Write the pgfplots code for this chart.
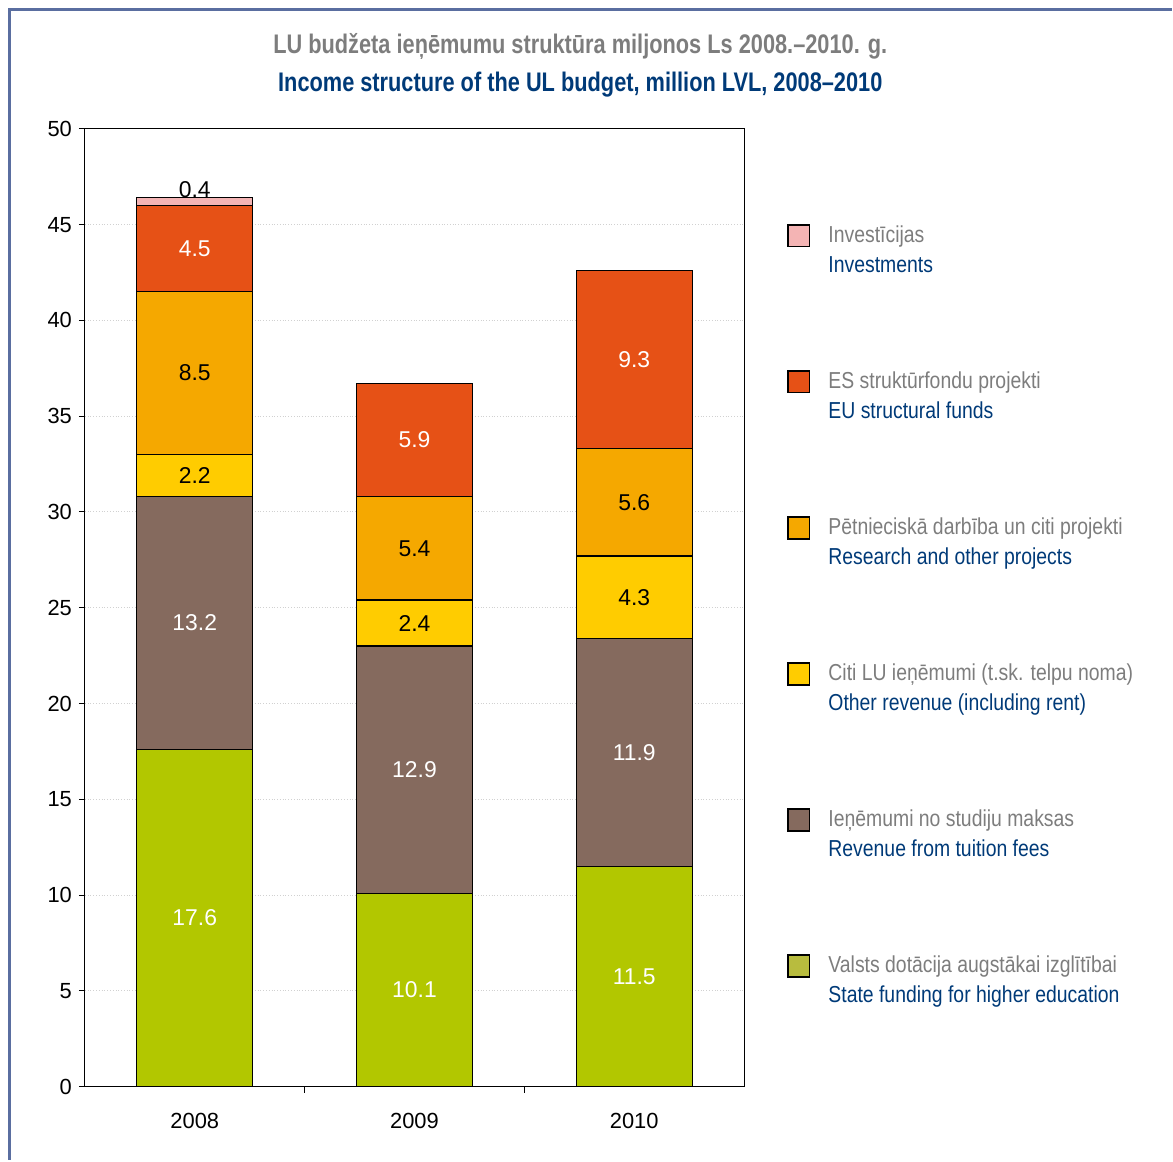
\documentclass[border=0pt]{standalone}
\usepackage{pgfplots}
\pgfplotsset{compat=1.18}
\usepackage{fontspec}
\setmainfont{Liberation Sans}
\newfontfamily\narrow[FakeStretch=0.84]{Liberation Sans}
\newfontfamily\narrowt[FakeStretch=0.81]{Liberation Sans}
\definecolor{cgreen}{RGB}{178,199,0}
\definecolor{cgreenleg}{RGB}{184,188,62}
\definecolor{cbrown}{RGB}{133,106,94}
\definecolor{cyellow}{RGB}{255,204,0}
\definecolor{corange}{RGB}{245,168,0}
\definecolor{cred}{RGB}{230,81,22}
\definecolor{cpink}{RGB}{244,180,180}
\definecolor{lgray}{RGB}{125,125,125}
\definecolor{lblue}{RGB}{0,58,120}
\definecolor{framec}{RGB}{90,110,160}
\pgfplotsset{
  mid label/.style={nodes near coords,
    every node near coord/.append style={anchor=center, text=#1}},
}
\begin{document}
\begin{tikzpicture}[x=0.5bp,y=0.5bp]
\path (0,0) rectangle (1173,1161);
\draw[framec, line width=1.5bp] (9.5,0) -- (9.5,1151) -- (1173,1151);
\node[font=\narrowt\bfseries\fontsize{13.5}{15}\selectfont, text=lgray] at (581,1114) {LU budžeta ieņēmumu struktūra miljonos Ls 2008.–2010. g.};
\node[font=\narrowt\bfseries\fontsize{13.5}{15}\selectfont, text=lblue] at (581,1076) {Income structure of the UL budget, million LVL, 2008–2010};
\begin{axis}[
  at={(42.5bp,36.5bp)}, anchor=south west,
  scale only axis, width=330bp, height=479.5bp,
  ybar stacked, bar width=0.527,
  xmin=0, xmax=3, ymin=0, ymax=50,
  xtick={0.5,1.5,2.5}, xticklabels={2008,2009,2010},
  minor xtick={1,2},
  ytick={0,5,...,50},
  xtick pos=bottom, ytick pos=left,
  tick align=outside,
  major x tick style={draw=none},
  minor tick length=3bp, major tick length=3bp,
  tick style={black, line width=0.5bp},
  xticklabel style={yshift=-7bp},
  ymajorgrids, grid style={densely dotted, black!18, line width=0.5bp},
  axis line style={black, line width=0.5bp},
  tick label style={font=\fontsize{11}{13}\selectfont},
  /pgf/number format/assume math mode=true,
  point meta=rawy,
  nodes near coords={\pgfmathprintnumber[fixed, fixed zerofill, precision=1]{\pgfplotspointmeta}},
  nodes near coords style={font=\fontsize{11.5}{13}\selectfont},
  reverse legend,
  legend style={draw=none, fill=none, at={(1.065,0.903)}, anchor=north west,
    row sep=44.3bp, column sep=7bp, inner sep=0pt,
    font=\narrow\fontsize{11.6}{15}\selectfont,
    cells={align=left, anchor=west, inner sep=0pt}},
  legend image code/.code={\draw[#1, draw=black, line width=0.6bp] (0bp,2bp) rectangle (11bp,13bp);},
]
\addplot[fill=cgreen, draw=black, line width=0.6bp, mid label=white, legend image post style={fill=cgreenleg}] coordinates {(0.5,17.6) (1.5,10.1) (2.5,11.5)};
\addlegendentry{\textcolor{lgray}{Valsts dotācija augstākai izglītībai}\\\textcolor{lblue}{State funding for higher education}}
\addplot[fill=cbrown, draw=black, line width=0.6bp, mid label=white] coordinates {(0.5,13.2) (1.5,12.9) (2.5,11.9)};
\addlegendentry{\textcolor{lgray}{Ieņēmumi no studiju maksas}\\\textcolor{lblue}{Revenue from tuition fees}}
\addplot[fill=cyellow, draw=black, line width=0.6bp, mid label=black] coordinates {(0.5,2.2) (1.5,2.4) (2.5,4.3)};
\addlegendentry{\textcolor{lgray}{Citi LU ieņēmumi (t.sk. telpu noma)}\\\textcolor{lblue}{Other revenue (including rent)}}
\addplot[fill=corange, draw=black, line width=0.6bp, mid label=black] coordinates {(0.5,8.5) (1.5,5.4) (2.5,5.6)};
\addlegendentry{\textcolor{lgray}{Pētnieciskā darbība un citi projekti}\\\textcolor{lblue}{Research and other projects}}
\addplot[fill=cred, draw=black, line width=0.6bp, mid label=white] coordinates {(0.5,4.5) (1.5,5.9) (2.5,9.3)};
\addlegendentry{\textcolor{lgray}{ES struktūrfondu projekti}\\\textcolor{lblue}{EU structural funds}}
\addplot[fill=cpink, draw=black, line width=0.6bp, nodes near coords, every node near coord/.append style={text=black, anchor=south, inner sep=1.5bp}] coordinates {(0.5,0.4) (1.5,0.0) (2.5,0.0)};
\addlegendentry{\textcolor{lgray}{Investīcijas}\\\textcolor{lblue}{Investments}}
\end{axis}
\end{tikzpicture}
\end{document}
